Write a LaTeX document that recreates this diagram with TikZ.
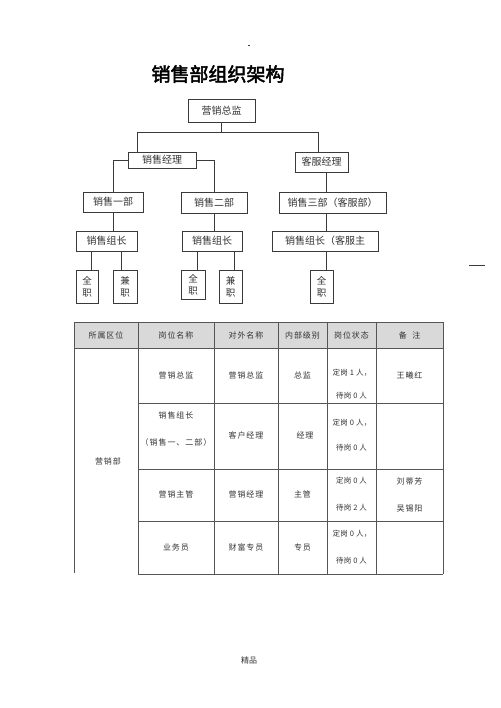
\documentclass[tikz,border=0pt]{standalone}
\usepackage{fontspec}
\setmainfont{Noto Sans CJK SC}
\newfontfamily\cjk{Noto Sans CJK SC}
\newfontfamily\cjkb{Noto Sans CJK SC}[FakeBold=2.5]
\newfontfamily\tbl{Noto Sans CJK SC}[LetterSpace=12]
\newfontfamily\tbs{Noto Sans CJK SC}[LetterSpace=4]
\definecolor{ln}{HTML}{3A3A3A}
\definecolor{tl}{HTML}{555555}
\definecolor{hd}{HTML}{D9D9D9}
\definecolor{tx}{HTML}{333333}
\begin{document}
\begin{tikzpicture}[x=1pt,y=-1pt,
  box/.style={draw=ln,line width=0.7pt,inner sep=0pt,text=tx,font=\cjk\fontsize{10}{12}\selectfont},
  vbox/.style={box,align=center,font=\cjk\fontsize{9.5}{12}\selectfont},
  conn/.style={draw=ln,line width=0.7pt},
  tline/.style={draw=tl,line width=0.6pt},
  tt/.style={inner sep=0pt,text=tx,font=\tbl\fontsize{8}{10}\selectfont,anchor=center},
  ts/.style={inner sep=0pt,text=tx,font=\tbs\fontsize{7.5}{10}\selectfont,anchor=center}]
\useasboundingbox (0,0) rectangle (500,708);
% stray marks
\draw[ln,line width=0.5pt] (248,45) -- (250,45);
\draw[ln,line width=0.9pt] (469,265) -- (485,265);
% title
\node[inner sep=0pt,font=\cjkb\fontsize{19}{22}\selectfont] (title) at (218,74) {销售部组织架构};
% org chart nodes
\node[box,minimum width=67,minimum height=23] (top) at (221.5,110.5) {营销总监};
\node[box,minimum width=68,minimum height=16] (m1) at (162,160) {销售经理};
\node[box,minimum width=53,minimum height=20] (k1) at (321.5,162) {客服经理};
\node[box,minimum width=60,minimum height=20] (d1) at (113,202) {销售一部};
\node[box,minimum width=66,minimum height=21] (d2) at (214,202.5) {销售二部};
\node[box,minimum width=107,minimum height=21] (d3) at (332.5,202.5) {销售三部（客服部）};
\node[box,minimum width=61,minimum height=20] (g1) at (106.5,241) {销售组长};
\node[box,minimum width=60,minimum height=20] (g2) at (212,241) {销售组长};
\node[box,minimum width=106,minimum height=20] (g3) at (325,241) {销售组长（客服主};
\node[vbox,minimum width=22,minimum height=33] (f1) at (87,286.5) {全\\职};
\node[vbox,minimum width=24,minimum height=33] (p1) at (125,286.5) {兼\\职};
\node[vbox,minimum width=24,minimum height=29] (f2) at (193,284.5) {全\\职};
\node[vbox,minimum width=23,minimum height=33] (p2) at (230.5,286.5) {兼\\职};
\node[vbox,minimum width=23,minimum height=33] (f3) at (321.5,286.5) {全\\职};
% connector coordinates
\coordinate (bL) at (137,132);
\coordinate (bR) at (318,132);
\coordinate (kx) at (326,0);
\coordinate (x1) at (91,0);
\coordinate (x2) at (121,0);
\coordinate (x3) at (197,0);
\coordinate (x4) at (234,0);
% connectors
\draw[conn] (top.south) -- (top.south |- bL);
\draw[conn] (bL) -- (bR);
\draw[conn] (bL) -- (bL |- m1.north);
\draw[conn] (bR) -- (bR |- k1.north);
\draw[conn] (m1.west) -| (d1.north);
\draw[conn] (m1.east) -| (d2.north);
\draw[conn] (kx |- k1.south) -- (kx |- d3.north);
\draw[conn] (d1.south) -- (d1.south |- g1.north);
\draw[conn] (d2.south) -- (d2.south |- g2.north);
\draw[conn] (kx |- d3.south) -- (kx |- g3.north);
\draw[conn] (x1 |- g1.south) -- (x1 |- f1.north);
\draw[conn] (x2 |- g1.south) -- (x2 |- p1.north);
\draw[conn] (x3 |- g2.south) -- (x3 |- f2.north);
\draw[conn] (x4 |- g2.south) -- (x4 |- p2.north);
\draw[conn] (kx |- g3.south) -- (kx |- f3.north);
% table
\fill[hd] (74,322) rectangle (443,348);
\draw[tline] (74,322) -- (443,322);
\draw[tline] (74,348) -- (443,348);
\draw[tline] (138,403) -- (443,403);
\draw[tline] (138,469) -- (443,469);
\draw[tline] (138,521) -- (443,521);
\draw[tline] (138,574) -- (443,574);
\draw[tline] (74.5,322) -- (74.5,573);
\foreach \cx in {138,214,278,327,376,443} {\draw[tline] (\cx,322) -- (\cx,574);}
% header
\node[tt] (h1) at (106,335) {所属区位};
\node[tt] (h2) at (176,335) {岗位名称};
\node[tt] (h3) at (246,335) {对外名称};
\node[tt] (h4) at (302.5,335) {内部级别};
\node[tt] (h5) at (351.5,335) {岗位状态};
\node[tt] (h6) at (409.5,335) {备\ \ 注};
% column 1
\node[tt] (c0) at (108,461) {营销部};
% row 1
\node[tt] (r1a) at (176,375.5) {营销总监};
\node[tt] (r1b) at (246,375.5) {营销总监};
\node[tt] (r1c) at (302.5,375.5) {总监};
\node[ts] (r1d) at (352,373) {定岗 1 人，};
\node[ts] (r1e) at (351.5,396) {待岗 0 人};
\node[tt] (r1f) at (409.5,375.5) {王曦红};
% row 2
\node[tt] (r2a) at (176,415) {销售组长};
\node[tt] (r2b) at (176,442) {（销售一、二部）};
\node[tt] (r2c) at (246,435) {客户经理};
\node[tt] (r2d) at (305,435) {经理};
\node[ts] (r2e) at (352,423) {定岗 0 人，};
\node[ts] (r2f) at (351.5,448) {待岗 0 人};
% row 3
\node[tt] (r3a) at (176,494) {营销主管};
\node[tt] (r3b) at (246,494) {营销经理};
\node[tt] (r3c) at (302.5,494) {主管};
\node[ts] (r3d) at (351.5,481) {定岗 0 人};
\node[ts] (r3e) at (351.5,508) {待岗 2 人};
\node[tt] (r3f) at (409.5,481) {刘蒂芳};
\node[tt] (r3g) at (409.5,508) {吴锡阳};
% row 4
\node[tt] (r4a) at (176,547) {业务员};
\node[tt] (r4b) at (246,547) {财富专员};
\node[tt] (r4c) at (302.5,547) {专员};
\node[ts] (r4d) at (352,534) {定岗 0 人，};
\node[ts] (r4e) at (351.5,561) {待岗 0 人};
% footer
\node[inner sep=0pt,text=tx,font=\cjk\fontsize{8}{10}\selectfont] (foot) at (249,660) {精品};
\end{tikzpicture}
\end{document}
